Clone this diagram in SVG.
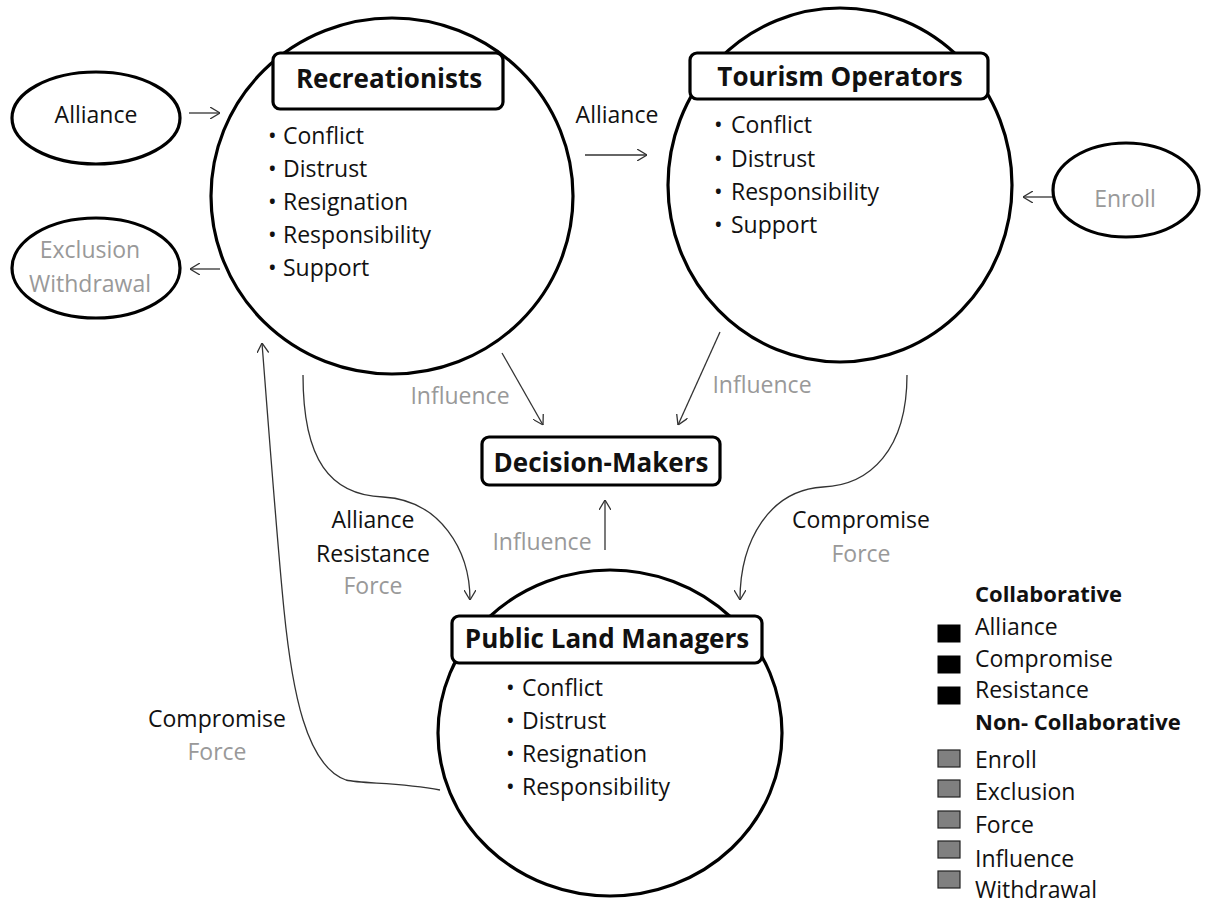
<svg xmlns="http://www.w3.org/2000/svg" width="1208" height="907" viewBox="0 0 1208 907">
<defs>
<marker id="arr" viewBox="0 0 10 12" refX="10" refY="6" markerWidth="10" markerHeight="12" markerUnits="userSpaceOnUse" orient="auto">
<path d="M0,0 L10,6 L0,12" fill="none" stroke="#333" stroke-width="1.3"/>
</marker>
</defs>
<style>
text{font-family:"Open Sans","Liberation Sans",sans-serif;font-size:23px;fill:#111}
.t{font-weight:bold;font-size:26px;text-anchor:middle}
.g{fill:#999}
.m{text-anchor:middle}
.lb{font-weight:bold;font-size:22px}
.shape{fill:#fff;stroke:#000;stroke-width:3.2}
.box{fill:#fff;stroke:#000;stroke-width:3.2}
.c{fill:none;stroke:#333;stroke-width:1.3;marker-end:url(#arr)}
.sqb{fill:#000;stroke:#000;stroke-width:1}
.sqg{fill:#808080;stroke:#222;stroke-width:1.2}
</style>
<rect width="1208" height="907" fill="#fff"/>

<g id="connectors">
<line class="c" x1="189" y1="113" x2="220" y2="113"/>
<line class="c" x1="220" y1="269" x2="190" y2="269"/>
<line class="c" x1="1053" y1="197" x2="1023" y2="197"/>
<line class="c" x1="585" y1="155" x2="647" y2="155"/>
<line class="c" x1="502" y1="353" x2="543" y2="425"/>
<line class="c" x1="720" y1="332" x2="678" y2="425"/>
<line class="c" x1="605" y1="550" x2="605" y2="500"/>
<path class="c" d="M303,375 C303,460 330,495 383,497 C440,500 470,550 470,600"/>
<path class="c" d="M907,375 C907,450 870,485 823,487 C770,490 740,540 740,600"/>
<path class="c" d="M440,790 C400,782 362,784 346,780 C306,766 292,690 284,610 C277,540 268,420 262,343"/>
<text x="617" y="123" class="m">Alliance</text>
<text x="460" y="404" class="m g">Influence</text>
<text x="762" y="393" class="m g">Influence</text>
<text x="542" y="550" class="m g">Influence</text>
<text x="373" y="528" class="m">Alliance</text>
<text x="373" y="562" class="m">Resistance</text>
<text x="373" y="594" class="m g">Force</text>
<text x="861" y="528" class="m">Compromise</text>
<text x="861" y="562" class="m g">Force</text>
<text x="217" y="727" class="m">Compromise</text>
<text x="217" y="760" class="m g">Force</text>
</g>

<g id="alliance-node">
<ellipse class="shape" cx="96" cy="118" rx="84" ry="46"/>
<text x="96" y="123" class="m">Alliance</text>
</g>

<g id="exclusion-node">
<ellipse class="shape" cx="96" cy="268" rx="84" ry="50"/>
<text x="90" y="258" class="m g">Exclusion</text>
<text x="90" y="292" class="m g">Withdrawal</text>
</g>

<g id="enroll-node">
<ellipse class="shape" cx="1126" cy="190" rx="73" ry="47"/>
<text x="1125" y="207" class="m g">Enroll</text>
</g>

<g id="recreationists">
<ellipse class="shape" cx="392" cy="196" rx="181" ry="178"/>
<rect class="box" x="273" y="53" width="230" height="56" rx="7"/>
<text x="389" y="88" class="t">Recreationists</text>
<text y="144"><tspan x="268">•</tspan><tspan x="283">Conflict</tspan></text>
<text y="177"><tspan x="268">•</tspan><tspan x="283">Distrust</tspan></text>
<text y="210"><tspan x="268">•</tspan><tspan x="283">Resignation</tspan></text>
<text y="243"><tspan x="268">•</tspan><tspan x="283">Responsibility</tspan></text>
<text y="276"><tspan x="268">•</tspan><tspan x="283">Support</tspan></text>
</g>

<g id="tourism-operators">
<ellipse class="shape" cx="840" cy="185" rx="172" ry="177"/>
<rect class="box" x="690" y="53" width="298" height="46" rx="7"/>
<text x="840" y="86" class="t">Tourism Operators</text>
<text y="133"><tspan x="714">•</tspan><tspan x="731">Conflict</tspan></text>
<text y="167"><tspan x="714">•</tspan><tspan x="731">Distrust</tspan></text>
<text y="200"><tspan x="714">•</tspan><tspan x="731">Responsibility</tspan></text>
<text y="233"><tspan x="714">•</tspan><tspan x="731">Support</tspan></text>
</g>

<g id="decision-makers">
<rect class="box" x="482" y="437" width="238" height="48" rx="7"/>
<text x="601" y="472" class="t">Decision-Makers</text>
</g>

<g id="public-land-managers">
<ellipse class="shape" cx="610" cy="733" rx="172" ry="163"/>
<rect class="box" x="452" y="616" width="310" height="47" rx="7"/>
<text x="607" y="648" class="t">Public Land Managers</text>
<text y="696"><tspan x="506">•</tspan><tspan x="522">Conflict</tspan></text>
<text y="729"><tspan x="506">•</tspan><tspan x="522">Distrust</tspan></text>
<text y="762"><tspan x="506">•</tspan><tspan x="522">Resignation</tspan></text>
<text y="795"><tspan x="506">•</tspan><tspan x="522">Responsibility</tspan></text>
</g>

<g id="legend">
<text x="975" y="602" class="lb">Collaborative</text>
<rect class="sqb" x="938" y="625" width="22" height="17"/>
<text x="975" y="635">Alliance</text>
<rect class="sqb" x="938" y="656" width="22" height="17"/>
<text x="975" y="667">Compromise</text>
<rect class="sqb" x="938" y="687" width="22" height="17"/>
<text x="975" y="698">Resistance</text>
<text x="975" y="730" class="lb">Non- Collaborative</text>
<rect class="sqg" x="938" y="750" width="22" height="17"/>
<text x="975" y="768">Enroll</text>
<rect class="sqg" x="938" y="780" width="22" height="17"/>
<text x="975" y="800">Exclusion</text>
<rect class="sqg" x="938" y="811" width="22" height="17"/>
<text x="975" y="833">Force</text>
<rect class="sqg" x="938" y="841" width="22" height="17"/>
<text x="975" y="867">Influence</text>
<rect class="sqg" x="938" y="871" width="22" height="17"/>
<text x="975" y="898">Withdrawal</text>
</g>
</svg>
